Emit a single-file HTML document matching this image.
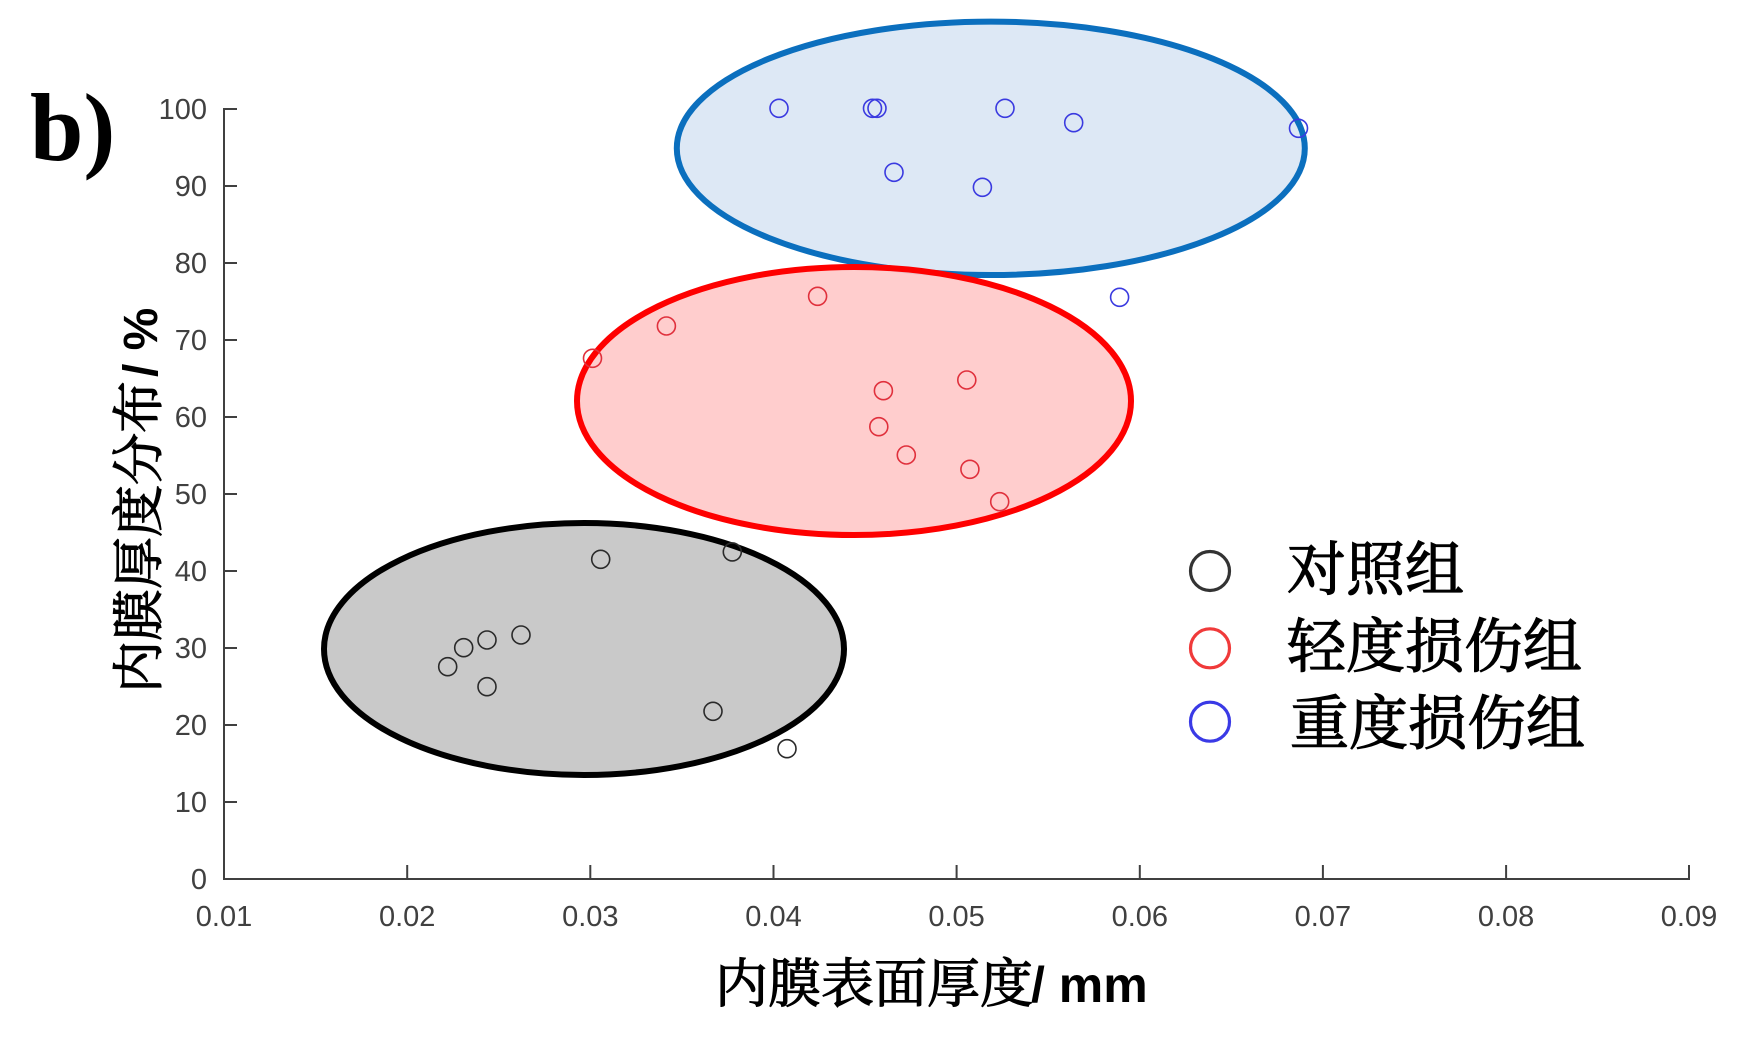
<!DOCTYPE html>
<html><head><meta charset="utf-8"><style>
html,body{margin:0;padding:0;background:#fff;}
svg{display:block;}
</style></head><body>
<svg width="1759" height="1041" viewBox="0 0 1759 1041" xmlns="http://www.w3.org/2000/svg">
<rect width="1759" height="1041" fill="#fff"/>
<!-- ellipses -->
<ellipse cx="584" cy="649" rx="260" ry="126" fill="#c9c9c9" stroke="#000" stroke-width="6"/>
<ellipse cx="990.8" cy="148.3" rx="314" ry="126.7" fill="#dde8f5" stroke="#0b6fbe" stroke-width="6"/>
<ellipse cx="854" cy="401" rx="277" ry="134" fill="#ffc9c9" fill-opacity="0.92" stroke="none"/>
<ellipse cx="854" cy="401" rx="277" ry="134" fill="none" stroke="#fe0000" stroke-width="6"/>
<!-- axes -->
<g stroke="#404040" stroke-width="2" fill="none">
<line x1="224" y1="108" x2="224" y2="880"/>
<line x1="223" y1="879" x2="1690" y2="879"/>
<line x1="224" y1="879" x2="237" y2="879"/>
<line x1="224" y1="802" x2="237" y2="802"/>
<line x1="224" y1="725" x2="237" y2="725"/>
<line x1="224" y1="648" x2="237" y2="648"/>
<line x1="224" y1="571" x2="237" y2="571"/>
<line x1="224" y1="494" x2="237" y2="494"/>
<line x1="224" y1="417" x2="237" y2="417"/>
<line x1="224" y1="340" x2="237" y2="340"/>
<line x1="224" y1="263" x2="237" y2="263"/>
<line x1="224" y1="186" x2="237" y2="186"/>
<line x1="224" y1="109" x2="237" y2="109"/>
<line x1="407.2" y1="879" x2="407.2" y2="865"/>
<line x1="590.3" y1="879" x2="590.3" y2="865"/>
<line x1="773.5" y1="879" x2="773.5" y2="865"/>
<line x1="956.6" y1="879" x2="956.6" y2="865"/>
<line x1="1139.8" y1="879" x2="1139.8" y2="865"/>
<line x1="1322.9" y1="879" x2="1322.9" y2="865"/>
<line x1="1506.1" y1="879" x2="1506.1" y2="865"/>
<line x1="1689" y1="879" x2="1689" y2="865"/>
</g>
<g font-family="Liberation Sans, Arial, sans-serif" font-size="29" fill="#404040" text-anchor="end">
<text x="207" y="889">0</text>
<text x="207" y="812">10</text>
<text x="207" y="735">20</text>
<text x="207" y="658">30</text>
<text x="207" y="581">40</text>
<text x="207" y="504">50</text>
<text x="207" y="427">60</text>
<text x="207" y="350">70</text>
<text x="207" y="273">80</text>
<text x="207" y="196">90</text>
<text x="207" y="119">100</text>
</g>
<g font-family="Liberation Sans, Arial, sans-serif" font-size="29" fill="#404040" text-anchor="middle">
<text x="224" y="926">0.01</text>
<text x="407.2" y="926">0.02</text>
<text x="590.3" y="926">0.03</text>
<text x="773.5" y="926">0.04</text>
<text x="956.6" y="926">0.05</text>
<text x="1139.8" y="926">0.06</text>
<text x="1322.9" y="926">0.07</text>
<text x="1506.1" y="926">0.08</text>
<text x="1689" y="926">0.09</text>
</g>
<!-- markers -->
<g fill="none" stroke="#3a3ae0" stroke-width="1.6">
<circle cx="779" cy="108.3" r="9"/>
<circle cx="872.5" cy="108.3" r="9"/>
<circle cx="877" cy="108.3" r="9"/>
<circle cx="1005" cy="108.3" r="9"/>
<circle cx="1073.7" cy="122.7" r="9"/>
<circle cx="1298.5" cy="128.3" r="9"/>
<circle cx="894" cy="172.3" r="9"/>
<circle cx="982.4" cy="187.3" r="9"/>
<circle cx="1119.6" cy="297.3" r="9"/>
</g>
<g fill="none" stroke="#e0303c" stroke-width="1.6">
<circle cx="817.6" cy="296.3" r="9"/>
<circle cx="666.4" cy="326" r="9"/>
<circle cx="592.5" cy="358.3" r="9"/>
<circle cx="883.4" cy="390.7" r="9"/>
<circle cx="966.8" cy="380" r="9"/>
<circle cx="878.8" cy="426.7" r="9"/>
<circle cx="906.3" cy="455" r="9"/>
<circle cx="969.9" cy="469.3" r="9"/>
<circle cx="999.7" cy="501.7" r="9"/>
</g>
<g fill="none" stroke="#2a2a2a" stroke-width="1.6">
<circle cx="600.7" cy="559.3" r="9"/>
<circle cx="732.3" cy="551.9" r="9"/>
<circle cx="521" cy="635" r="9"/>
<circle cx="487" cy="640" r="9"/>
<circle cx="463.7" cy="647.7" r="9"/>
<circle cx="447.7" cy="666.7" r="9"/>
<circle cx="487" cy="686.7" r="9"/>
<circle cx="713" cy="711.3" r="9"/>
<circle cx="787" cy="748.7" r="9"/>
</g>
<!-- legend -->
<circle cx="1210" cy="571" r="19.5" fill="none" stroke="#333" stroke-width="3.2"/>
<circle cx="1210" cy="648.3" r="19.5" fill="none" stroke="#f03a3a" stroke-width="3.2"/>
<circle cx="1210" cy="721.7" r="19.5" fill="none" stroke="#3a3ae6" stroke-width="3.2"/>
<g font-family="Liberation Serif, 'Noto Serif CJK SC', serif" font-weight="normal" font-size="59" fill="#000" stroke="#000" stroke-width="1.2">
<text x="1287" y="590">对照组</text>
<text x="1287" y="667">轻度损伤组</text>
<text x="1290" y="744">重度损伤组</text>
</g>
<!-- axis titles -->
<text x="715" y="1002" font-family="Liberation Serif, 'Noto Serif CJK SC', serif" font-weight="normal" font-size="53" fill="#000" stroke="#000" stroke-width="1.1">内膜表面厚度<tspan font-family="Liberation Sans, Arial, sans-serif" font-weight="bold" stroke="none" font-size="50" dx="-2">/ mm</tspan></text>
<text transform="translate(157,693) rotate(-90)" x="0" y="0" font-family="Liberation Serif, 'Noto Serif CJK SC', serif" font-weight="normal" font-size="52" fill="#000" stroke="#000" stroke-width="1.1">内膜厚度分布<tspan font-family="Liberation Sans, Arial, sans-serif" font-weight="bold" stroke="none" font-size="48" dx="4">/ %</tspan></text>
<!-- panel label -->
<text x="30" y="160" font-family="Liberation Serif, 'Times New Roman', serif" font-weight="bold" font-size="96" fill="#000">b)</text>
</svg>
</body></html>
